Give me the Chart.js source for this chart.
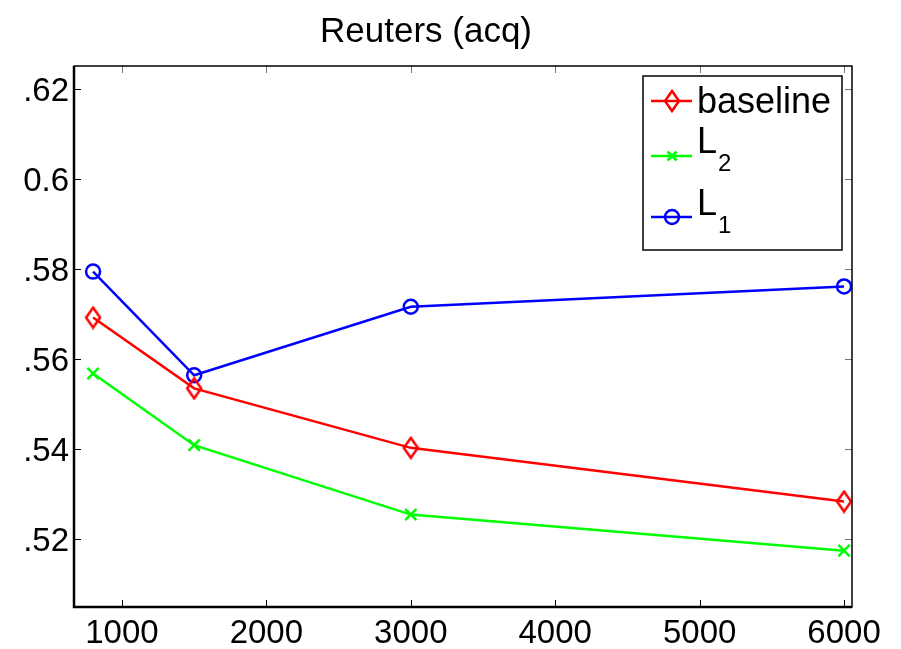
<!DOCTYPE html>
<html>
<head>
<meta charset="utf-8">
<script src="https://cdn.jsdelivr.net/npm/chart.js@4.4.0/dist/chart.umd.min.js"></script>
<style>
  html, body { margin: 0; padding: 0; background: #fff; }
  canvas { display: block; }
</style>
</head>
<body>
<canvas id="reutersChart" width="901" height="649"></canvas>
<script>
// data
const xValues = [800, 1500, 3000, 6000];
const baselineValues = [0.5692, 0.5535, 0.5403, 0.5284];
const l2Values = [0.5568, 0.5409, 0.5255, 0.5175];
const l1Values = [0.5794, 0.5564, 0.5716, 0.5761];

const xTicks = [1000, 2000, 3000, 4000, 5000, 6000];
const yTicks = [0.52, 0.54, 0.56, 0.58, 0.60, 0.62];
const yTickLabels = ['.52', '.54', '.56', '.58', '0.6', '.62'];

const fontFamily = "'Liberation Sans', Arial, Helvetica, sans-serif";

function toPoints(ys) {
    return xValues.map((x, i) => ({ x: x, y: ys[i] }));
}

// MATLAB style diamond (a bit taller than wide)
function makeDiamond(color) {
    const c = document.createElement('canvas');
    c.width = 18;
    c.height = 24;
    const g = c.getContext('2d');
    g.strokeStyle = color;
    g.lineWidth = 2.5;
    g.beginPath();
    g.moveTo(9, 2);
    g.lineTo(16, 12);
    g.lineTo(9, 22);
    g.lineTo(2, 12);
    g.closePath();
    g.stroke();
    return c;
}
const diamond = makeDiamond('#ff0000');

// frame + inward ticks on all four sides
const framePlugin = {
    id: 'frame',
    afterDraw(chart) {
        const { ctx, chartArea: a, scales } = chart;
        const len = 7;
        ctx.save();
        ctx.lineWidth = 1;
        xTicks.forEach(v => {
            const px = Math.round(scales.x.getPixelForValue(v)) + 0.5;
            ctx.strokeStyle = '#000';
            ctx.beginPath();
            ctx.moveTo(px, a.bottom);
            ctx.lineTo(px, a.bottom - len);
            ctx.stroke();
            ctx.strokeStyle = '#777';
            ctx.beginPath();
            ctx.moveTo(px, a.top);
            ctx.lineTo(px, a.top + len);
            ctx.stroke();
        });
        yTicks.forEach(v => {
            const py = Math.round(scales.y.getPixelForValue(v)) + 0.5;
            ctx.strokeStyle = '#000';
            ctx.beginPath();
            ctx.moveTo(a.left, py);
            ctx.lineTo(a.left + len, py);
            ctx.stroke();
            ctx.strokeStyle = '#777';
            ctx.beginPath();
            ctx.moveTo(a.right, py);
            ctx.lineTo(a.right - len, py);
            ctx.stroke();
        });
        ctx.strokeStyle = '#000';
        ctx.lineWidth = 1.5;
        ctx.strokeRect(a.left, a.top, a.right - a.left, a.bottom - a.top);
        ctx.lineWidth = 2.5;
        ctx.beginPath();
        ctx.moveTo(a.left, a.top);
        ctx.lineTo(a.left, a.bottom);
        ctx.lineTo(a.right, a.bottom);
        ctx.stroke();
        ctx.restore();
    }
};

// legend box with subscripts (L_2, L_1)
const legendPlugin = {
    id: 'matlabLegend',
    afterDraw(chart) {
        const { ctx, chartArea: a } = chart;
        const bx = a.right - 209, by = a.top + 10, bw = 199, bh = 174;
        ctx.save();
        ctx.fillStyle = '#fff';
        ctx.fillRect(bx, by, bw, bh);
        ctx.strokeStyle = '#000';
        ctx.lineWidth = 1.5;
        ctx.strokeRect(bx, by, bw, bh);

        const rows = [
            { color: '#ff0000', ly: 25, text: 'baseline', tb: 37, sub: null },
            { color: '#00ff00', ly: 80, text: 'L', tb: 77, sub: '2', sb: 95 },
            { color: '#0000ff', ly: 141, text: 'L', tb: 139, sub: '1', sb: 157 }
        ];
        rows.forEach((r, i) => {
            const y = by + r.ly;
            ctx.strokeStyle = r.color;
            ctx.lineWidth = 2.5;
            ctx.beginPath();
            ctx.moveTo(bx + 8, y);
            ctx.lineTo(bx + 49, y);
            ctx.stroke();
            const mx = bx + 29;
            if (i === 0) {
                ctx.drawImage(diamond, mx - diamond.width / 2, y - diamond.height / 2);
            } else if (i === 1) {
                ctx.beginPath();
                ctx.moveTo(mx - 4.5, y - 4.5); ctx.lineTo(mx + 4.5, y + 4.5);
                ctx.moveTo(mx + 4.5, y - 4.5); ctx.lineTo(mx - 4.5, y + 4.5);
                ctx.stroke();
            } else {
                ctx.beginPath();
                ctx.arc(mx, y, 7, 0, Math.PI * 2);
                ctx.stroke();
            }
            ctx.fillStyle = '#000';
            ctx.textAlign = 'left';
            ctx.textBaseline = 'alphabetic';
            ctx.font = '36px ' + fontFamily;
            ctx.fillText(r.text, bx + 54, by + r.tb);
            if (r.sub) {
                ctx.font = '24px ' + fontFamily;
                ctx.fillText(r.sub, bx + 75, by + r.sb);
            }
        });
        ctx.restore();
    }
};

const ctx = document.getElementById('reutersChart');
new Chart(ctx, {
    type: 'line',
    data: {
        datasets: [
            {
                label: 'baseline',
                data: toPoints(baselineValues),
                borderColor: '#ff0000',
                borderWidth: 2.5,
                pointStyle: diamond,
                pointRadius: 8
            },
            {
                label: 'L2',
                data: toPoints(l2Values),
                borderColor: '#00ff00',
                borderWidth: 2.5,
                pointStyle: 'crossRot',
                pointRadius: 8,
                pointBorderWidth: 2.5,
                pointBorderColor: '#00ff00'
            },
            {
                label: 'L1',
                data: toPoints(l1Values),
                borderColor: '#0000ff',
                borderWidth: 2.5,
                pointStyle: 'circle',
                pointRadius: 7,
                pointBorderWidth: 2.5,
                pointBorderColor: '#0000ff',
                pointBackgroundColor: 'rgba(0,0,0,0)'
            }
        ]
    },
    options: {
        responsive: false,
        animation: false,
        layout: { padding: { left: 0, right: 49, top: 0, bottom: 0 } },
        elements: { line: { tension: 0 } },
        plugins: {
            legend: { display: false },
            tooltip: { enabled: false },
            title: {
                display: true,
                text: 'Reuters (acq)',
                color: '#000',
                font: { family: fontFamily, size: 35, weight: 'normal', lineHeight: 1.2 },
                padding: { top: 11, bottom: 13 }
            }
        },
        scales: {
            x: {
                type: 'linear',
                min: 668,
                max: 6055,
                grid: { display: false, drawTicks: false },
                border: { display: false },
                afterBuildTicks: function(scale) {
                    scale.ticks = xTicks.map(v => ({ value: v }));
                },
                afterFit: function(scale) {
                    scale.height = 42;
                },
                ticks: {
                    color: '#000',
                    padding: 7,
                    maxRotation: 0,
                    autoSkip: false,
                    font: { family: fontFamily, size: 33 },
                    callback: function(value) {
                        return String(value);
                    }
                }
            },
            y: {
                min: 0.505,
                max: 0.625,
                grid: { display: false, drawTicks: false },
                border: { display: false },
                afterBuildTicks: function(scale) {
                    scale.ticks = yTicks.map(v => ({ value: v }));
                },
                afterFit: function(scale) {
                    scale.width = 74;
                },
                ticks: {
                    color: '#000',
                    padding: 5,
                    autoSkip: false,
                    font: { family: fontFamily, size: 33 },
                    labelOffset: 3,
                    callback: function(value, index) {
                        return yTickLabels[index];
                    }
                }
            }
        }
    },
    plugins: [framePlugin, legendPlugin]
});
</script>
</body>
</html>
